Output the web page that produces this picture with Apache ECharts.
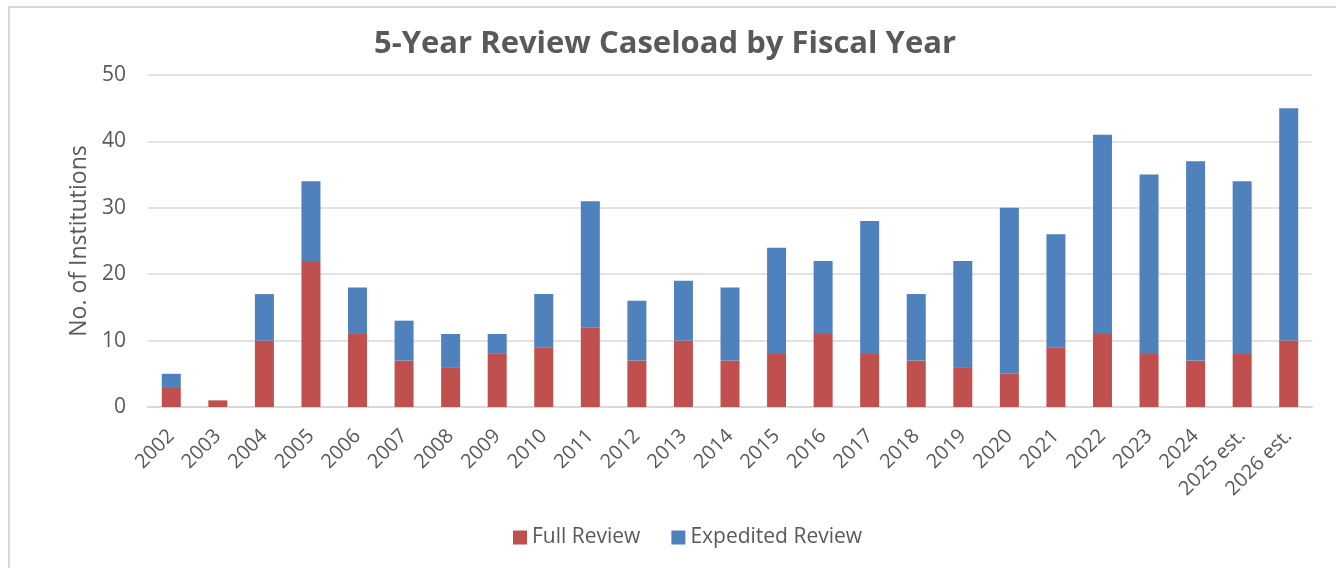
<!DOCTYPE html>
<html>
<head>
<meta charset="utf-8">
<script src="https://cdn.jsdelivr.net/npm/echarts@6/dist/echarts.min.js"></script>
<style>
html,body{margin:0;padding:0;background:#fff;}
#frame{position:absolute;left:8px;top:6px;width:1400px;height:600px;border-left:2px solid #d9d9d9;border-top:2px solid #d9d9d9;}
#chart{position:absolute;left:0;top:0;width:1336px;height:568px;}
</style>
</head>
<body>
<div id="frame"></div>
<div id="chart"></div>
<script>
const categories = ['2002','2003','2004','2005','2006','2007','2008','2009','2010','2011','2012','2013','2014','2015','2016','2017','2018','2019','2020','2021','2022','2023','2024','2025 est.','2026 est.'];
const fullReview = [3,1,10,22,11,7,6,8,9,12,7,10,7,8,11,8,7,6,5,9,11,8,7,8,10];
const expeditedReview = [2,0,7,12,7,6,5,3,8,19,9,9,11,16,11,20,10,16,25,17,30,27,30,26,35];
const yTicks = {min:0, max:50, interval:10};

const chart = echarts.init(document.getElementById('chart'));
const font = "'Open Sans', 'Noto Sans', sans-serif";
chart.setOption({
  animation:false,
  title:{text:'5-Year Review Caseload by Fiscal Year', left:660, top:24, textAlign:'center',
    textStyle:{fontFamily:font, fontSize:31, fontWeight:'bold', color:'#595959'}},
  legend:{bottom:15, left:508, itemWidth:14, itemHeight:14, itemGap:31, icon:'rect',
    textStyle:{fontFamily:font, fontSize:21, color:'#595959'},
    data:['Full Review','Expedited Review']},
  grid:{left:148, right:24, top:75, bottom:161, containLabel:false},
  xAxis:{type:'category', data:categories,
    axisLine:{lineStyle:{color:'#d9d9d9', width:2}}, axisTick:{show:false},
    axisLabel:{rotate:45, fontFamily:font, fontSize:20, color:'#595959', margin:26, interval:0}},
  yAxis:{type:'value', min:yTicks.min, max:yTicks.max, interval:yTicks.interval,
    name:'No. of Institutions', nameLocation:'middle', nameGap:56,
    nameTextStyle:{fontFamily:font, fontSize:23, color:'#595959'},
    axisLine:{show:false}, axisTick:{show:false},
    axisLabel:{fontFamily:font, fontSize:21, color:'#595959', margin:22},
    splitLine:{lineStyle:{color:'#d9d9d9', width:1.5}}},
  series:[
    {name:'Full Review', type:'bar', stack:'total', data:fullReview, barWidth:19,
      itemStyle:{color:'#C0504D'}},
    {name:'Expedited Review', type:'bar', stack:'total', data:expeditedReview, barWidth:19,
      itemStyle:{color:'#4F81BD'}}
  ]
});
</script>
</body>
</html>
